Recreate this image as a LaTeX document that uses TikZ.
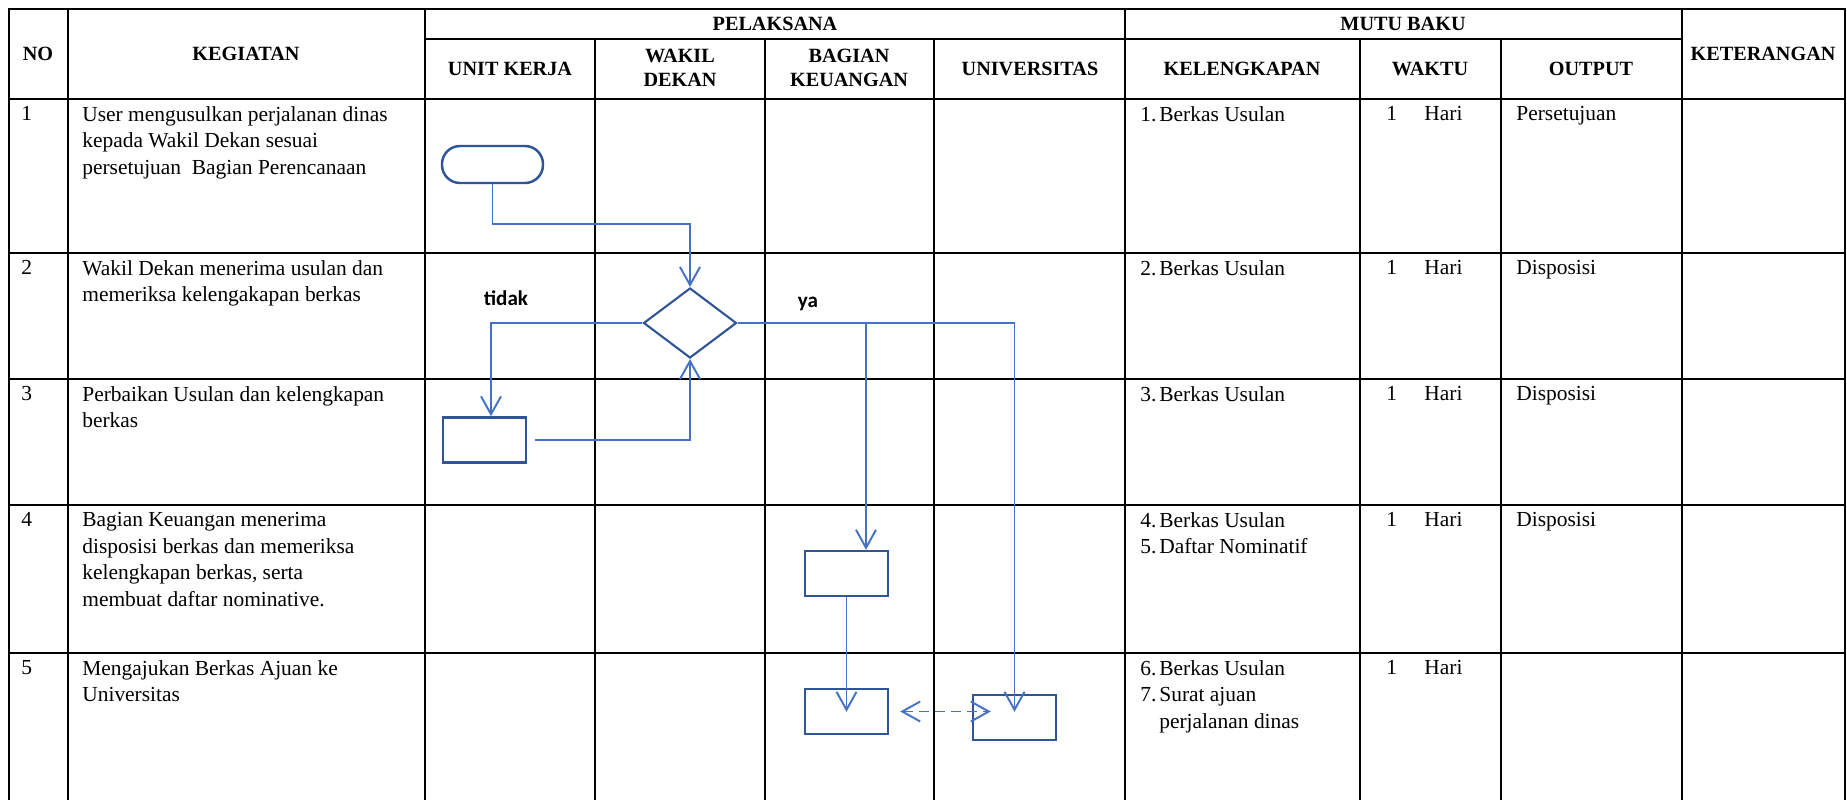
\documentclass[tikz,border=0pt]{standalone}
\usepackage{fontspec}
\setmainfont{Liberation Serif}
\newfontfamily\labelfont{Carlito}
\usetikzlibrary{arrows.meta,shapes.geometric}
\definecolor{lineblue}{HTML}{4472C4}
\definecolor{edgeblue}{HTML}{2F5597}
\tikzset{
    cell/.style={anchor=north west,align=left,inner sep=0pt,font=\fontsize{12.2}{15.1}\selectfont},
    head/.style={align=center,inner sep=0pt,font=\fontsize{11.5}{14}\selectfont\bfseries},
    rule/.style={line width=1.3pt,line cap=rect},
    flow/.style={draw=lineblue,line width=1.1pt,-{Straight Barb[length=3.6mm,width=4mm]}},
    task/.style={draw=edgeblue,line width=1.4pt,minimum width=16.6mm,minimum height=9mm,inner sep=0pt},
    yesno/.style={inner sep=0pt,font=\labelfont\bfseries\fontsize{12}{14}\selectfont},
}
\newcommand\Item[2]{\makebox[3.8mm][l]{#1.}#2}
\newcommand\Waktu{\makebox[7.6mm][l]{1}Hari}
\newcommand\RowText[6]{% top, no, kegiatan, kelengkapan, waktu, output
    \node[cell] (no#2) at (21,#1+7) {#2};
    \node[cell] (keg#2) at (82,#1+7) {#3};
    \node[cell] (kel#2) at (1140,#1+7) {#4};
    \node[cell] (wkt#2) at (1386,#1+7) {#5};
    \node[cell] (out#2) at (1516,#1+7) {#6};
}

\begin{document}
\begin{tikzpicture}[x=0.2mm,y=-0.2mm]
    \useasboundingbox (0,0) rectangle (1847,799);
    % table
    \draw[rule] (9,9) -- (1845,9);
    \draw[rule] (425,39) -- (1682,39);
    \foreach \y in {99,253,379,505,653} \draw[rule] (9,\y) -- (1845,\y);
    \foreach \x in {9,68,425,1125,1682,1845} \draw[rule] (\x,9) -- (\x,799);
    \foreach \x in {595,765,934,1360,1501} \draw[rule] (\x,39) -- (\x,799);

    \node[head] (hNo) at (38,54) {NO};
    \node[head] (hKeg) at (246,54) {KEGIATAN};
    \node[head] (hPel) at (775,24) {PELAKSANA};
    \node[head] (hMutu) at (1403,24) {MUTU BAKU};
    \node[head] (hKet) at (1763,54) {KETERANGAN};
    \node[head] (hUnit) at (510,69) {UNIT KERJA};
    \node[head] (hWakil) at (680,68) {WAKIL\\DEKAN};
    \node[head] (hBag) at (849,68) {BAGIAN\\KEUANGAN};
    \node[head] (hUniv) at (1030,69) {UNIVERSITAS};
    \node[head] (hKel) at (1242,69) {KELENGKAPAN};
    \node[head] (hWkt) at (1430,69) {WAKTU};
    \node[head] (hOut) at (1591,69) {OUTPUT};

    \RowText{99}{1}{User mengusulkan perjalanan dinas\\kepada Wakil Dekan sesuai\\persetujuan\ \ Bagian Perencanaan}{\Item{1}{Berkas Usulan}}{\Waktu}{Persetujuan}
    \RowText{253}{2}{Wakil Dekan menerima usulan dan\\memeriksa kelengakapan berkas}{\Item{2}{Berkas Usulan}}{\Waktu}{Disposisi}
    \RowText{379}{3}{Perbaikan Usulan dan kelengkapan\\berkas}{\Item{3}{Berkas Usulan}}{\Waktu}{Disposisi}
    \RowText{505}{4}{Bagian Keuangan menerima\\disposisi berkas dan memeriksa\\kelengkapan berkas, serta\\membuat daftar nominative.}{\Item{4}{Berkas Usulan}\\\Item{5}{Daftar Nominatif}}{\Waktu}{Disposisi}
    \RowText{653}{5}{Mengajukan Berkas Ajuan ke\\Universitas}{\Item{6}{Berkas Usulan}\\\Item{7}{Surat ajuan}\\\hspace*{3.8mm}perjalanan dinas}{\Waktu}{}

    % flow
    \node[task,rounded corners=3.6mm,minimum width=20.2mm,minimum height=7.4mm] (start) at (492.5,164.5) {};
    \node[diamond,draw=edgeblue,line width=1.2pt,minimum width=18.6mm,minimum height=14mm,inner sep=0pt] (check) at (690,323) {};
    \node[task] (fix) at (484.5,440) {};
    \node[task] (keu1) at (846.5,573.5) {};
    \node[task] (keu2) at (846.5,711.5) {};
    \node[task] (univ) at (1014.5,717.5) {};
    \node[yesno] (tidak) at (506,298) {tidak};
    \node[yesno] (ya) at (808,304) {ya};
    \coordinate (split) at (866,323);

    \draw[flow] (start.south) -- ++(0,40) -| (check.north);
    \draw[flow] (check.west) -| ([xshift=1.3mm]fix.north);
    \draw[flow] ([xshift=1.6mm]fix.east) -| (check.south);
    \draw[flow] (check.east) -| ([yshift=-3.6mm]univ.north);
    \draw[flow] (split) -- (split |- keu1.north);
    \draw[flow] (keu1.south) -- ([yshift=-4.8mm]keu2.north);
    \draw[flow,dash pattern=on 2mm off 1.2mm,{Straight Barb[length=3.6mm,width=4mm]}-{Straight Barb[length=3.6mm,width=4mm]}] ([xshift=2.2mm]keu2.east) -- ([xshift=3.8mm]keu2.east -| univ.west);
\end{tikzpicture}
\end{document}
